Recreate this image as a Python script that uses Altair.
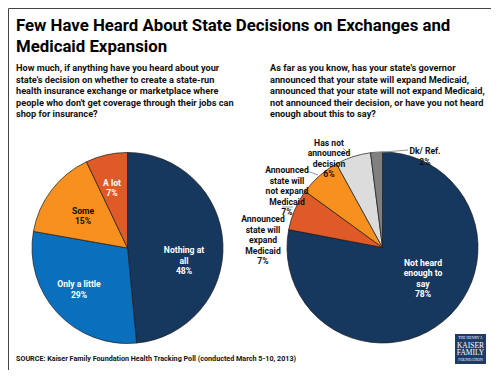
import altair as alt
import pandas as pd

# ---------------- data ----------------
left_cats = ["Nothing at all", "Only a little", "Some", "A lot"]
left_vals = [48, 29, 15, 7]
left_labels = ["Nothing at\nall\n48%", "Only a little\n29%", "Some\n15%", "A lot\n7%"]

right_cats = ["Not heard enough to say", "Announced state will expand Medicaid",
              "Announced state will not expand Medicaid", "Has not announced decision", "Dk/ Ref."]
right_vals = [78, 7, 7, 6, 2]
right_labels = ["Not heard\nenough to\nsay\n78%", "Announced\nstate will\nexpand\nMedicaid\n7%",
                "Announced\nstate will\nnot expand\nMedicaid\n7%", "Has not\nannounced\ndecision\n6%",
                "Dk/ Ref.\n2%"]

title_text = "Few Have Heard About State Decisions on Exchanges and\nMedicaid Expansion"
q_left = ("How much, if anything have you heard about your\nstate's decision on whether to create a state-run\n"
          "health insurance exchange or marketplace where\npeople who don't get coverage through their jobs can\n"
          "shop for insurance?")
q_right = ("As far as you know, has your state's governor\nannounced that your state will expand Medicaid,\n"
           "announced that your state will not expand Medicaid,\nnot announced their decision, or have you not heard\n"
           "enough about this to say?")
source_text = "SOURCE: Kaiser Family Foundation Health Tracking Poll (conducted March 5-10, 2013)"

# ---------------- styles / layout ----------------
FONT = "Roboto, sans-serif"
NAVY = "#16375e"
left_colors = [NAVY, "#0a70bd", "#f7901e", "#e05a28"]
right_colors = [NAVY, "#e05a28", "#f7901e", "#dcdcdc", "#808080"]
left_text_colors = ["white", "white", "#111111", "white"]
right_text_colors = ["white", "#111111", "#111111", "#111111", "#111111"]
left_label_pos = [(176, 242), (71, 276), (75, 202.5), (104, 174.5)]
right_label_pos = [(415, 254.5), (255, 211), (279, 162), (321, 134.5), (417, 143)]
leaders = [(274, 199, 285, 199), (299, 163, 310, 167), (335, 140, 342, 147), (400, 142, 364, 145)]

W, H = 483, 362
R = 95.5


def pie(cats, vals, colors, cx, cy):
    df = pd.DataFrame({"cat": cats, "value": vals, "order": list(range(len(cats)))})
    return alt.Chart(df).mark_arc(outerRadius=R, stroke="#1a1a1a", strokeWidth=0.7).encode(
        theta=alt.Theta("value:Q", stack=True),
        order=alt.Order("order:Q"),
        color=alt.Color("cat:N", scale=alt.Scale(domain=cats, range=colors), legend=None),
        x=alt.value(cx), y=alt.value(cy),
    )


def labels(texts, pos, tcolors):
    df = pd.DataFrame({"t": texts, "x": [p[0] for p in pos], "y": [p[1] for p in pos], "c": tcolors})
    return alt.Chart(df).mark_text(lineBreak="\n", font=FONT, fontSize=8.6, fontWeight="bold",
                                   lineHeight=10.5, align="center", baseline="middle").encode(
        x=alt.X("x:Q", scale=None), y=alt.Y("y:Q", scale=None),
        text="t:N", color=alt.Color("c:N", scale=None))


def block(text, x, y, size, weight, lh, color="#111111", align="left", font=FONT):
    df = pd.DataFrame({"t": [text]})
    return alt.Chart(df).mark_text(lineBreak="\n", font=font, fontSize=size, fontWeight=weight,
                                   lineHeight=lh, align=align, baseline="alphabetic", color=color).encode(
        x=alt.value(x), y=alt.value(y), text="t:N")


lead_df = pd.DataFrame(leaders, columns=["x", "y", "x2", "y2"])
leader_layer = alt.Chart(lead_df).mark_rule(color="#8a8a8a", strokeWidth=0.9).encode(
    x=alt.X("x:Q", scale=None), y=alt.Y("y:Q", scale=None),
    x2="x2:Q", y2="y2:Q")

logo_rect = alt.Chart(pd.DataFrame({"a": [0]})).mark_rect(color="#1f3a66").encode(
    x=alt.value(447), x2=alt.value(478), y=alt.value(326), y2=alt.value(356))

SERIF = "Liberation Serif"
logo_small_top = block("THE HENRY J.", 462.5, 331, 3.8, "normal", 4, "white", "center", SERIF)
logo_big = block("KAISER\nFAMILY", 462.5, 339.5, 7.5, "normal", 7.5, "white", "center", SERIF)
logo_small_bot = block("FOUNDATION", 462.5, 352.5, 3.8, "normal", 4, "white", "center", SERIF)

chart = alt.layer(
    pie(left_cats, left_vals, left_colors, 119.5, 240),
    pie(right_cats, right_vals, right_colors, 374.5, 239.5),
    leader_layer,
    labels(left_labels, left_label_pos, left_text_colors),
    labels(right_labels, right_label_pos, right_text_colors),
    block(title_text, 8, 22.7, 16.8, "bold", 21, "#000000"),
    block(q_left, 8, 63, 9.2, "bold", 11.6),
    block(q_right, 262, 63, 9.2, "bold", 11.6),
    block(source_text, 8, 353, 7.2, "bold", 10),
    logo_rect, logo_small_top, logo_big, logo_small_bot,
).resolve_scale(theta="independent", color="independent").properties(
    width=W, height=H, padding=0, autosize=alt.AutoSizeParams(type="none"), background="white"
).configure_view(stroke="#444444", strokeWidth=1)

chart.save("out.html", embed_options={"renderer": "svg", "actions": False})
